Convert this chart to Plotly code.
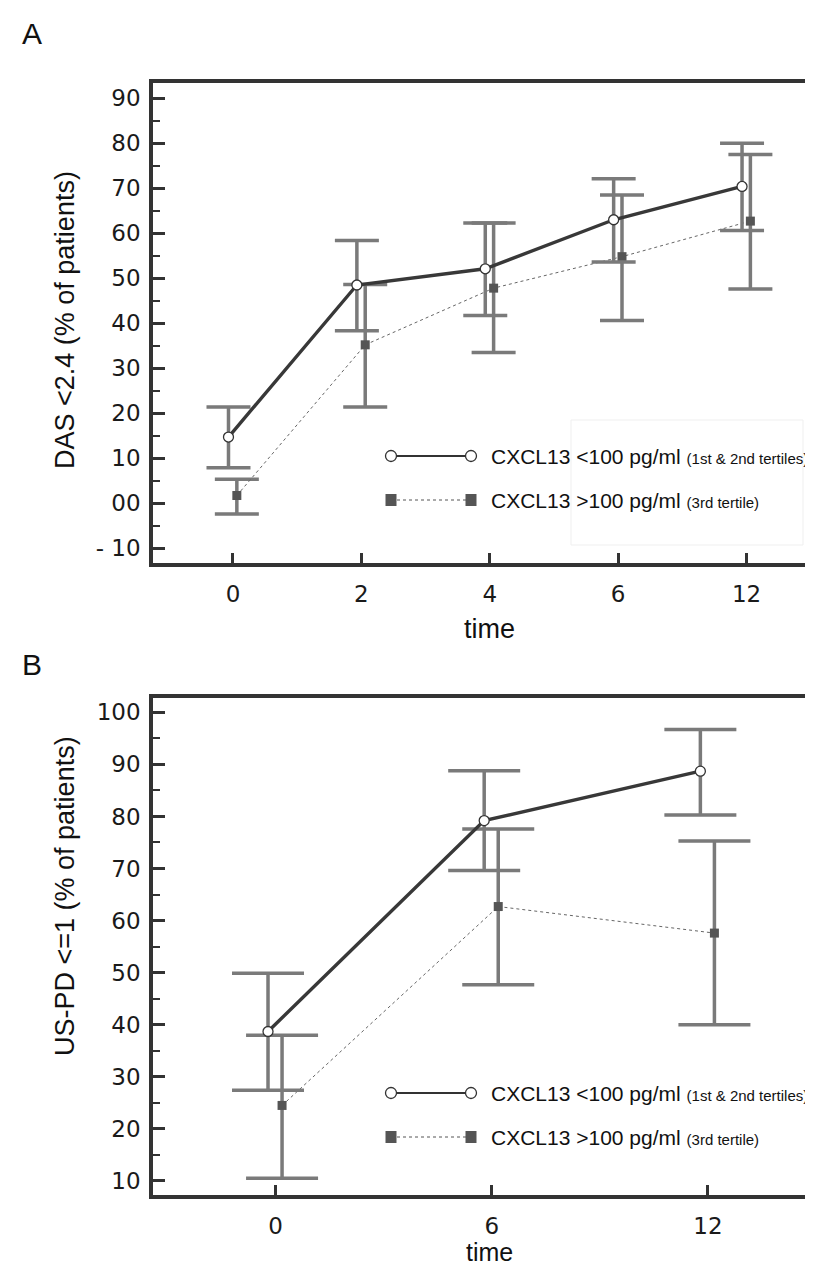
import plotly.graph_objects as go

W, H = 813, 1268
FONT = "Liberation Sans, Arial, Helvetica, sans-serif"
TICK_FONT = "DejaVu Sans, Liberation Sans, sans-serif"

# ---------------- Panel A data (DAS <2.4) ----------------
time_a = ["0", "2", "4", "6", "12"]
das_low = [14.7, 48.5, 52.1, 63.0, 70.4]
das_low_upper = [21.4, 58.4, 62.3, 72.1, 80.0]
das_low_lower = [7.9, 38.3, 41.7, 53.6, 60.6]
das_high = [1.7, 35.2, 47.8, 54.8, 62.7]
das_high_upper = [5.3, 48.6, 62.3, 68.5, 77.5]
das_high_lower = [-2.4, 21.4, 33.5, 40.6, 47.6]
y_ticks_a = [-10, 0, 10, 20, 30, 40, 50, 60, 70, 80, 90]
y_ticktext_a = ["- 10", "00", "10", "20", "30", "40", "50", "60", "70", "80", "90"]
y_minor_a = [-5, 5, 15, 25, 35, 45, 55, 65, 75, 85]

# ---------------- Panel B data (US-PD <=1) ----------------
time_b = ["0", "6", "12"]
us_low = [38.7, 79.2, 88.7]
us_low_upper = [49.9, 88.8, 96.7]
us_low_lower = [27.4, 69.6, 80.3]
us_high = [24.5, 62.7, 57.6]
us_high_upper = [38.0, 77.6, 75.3]
us_high_lower = [10.5, 47.7, 40.0]
y_ticks_b = [10, 20, 30, 40, 50, 60, 70, 80, 90, 100]
y_ticktext_b = ["10", "20", "30", "40", "50", "60", "70", "80", "90", "100"]
y_minor_b = [15, 25, 35, 45, 55, 65, 75, 85, 95]

legend_low = "CXCL13 &lt;100 pg/ml <span style='font-size:15px'>(1st &amp; 2nd tertiles)</span>"
legend_high = "CXCL13 &gt;100 pg/ml <span style='font-size:15px'>(3rd tertile)</span>"


def px(x):
    return x / W


def py(y):
    return 1 - y / H


AXIS_C = "#333333"
ERR_C = "#7a7a7a"

fig = go.Figure()


def add_panel(labels, low, low_up, low_lo, high, high_up, high_lo, xa, ya, cap):
    idx = list(range(len(labels)))
    fig.add_trace(go.Scatter(
        x=[i + 0.03 for i in idx], y=high, mode="lines+markers",
        line=dict(color="#666666", width=1, dash="dot"),
        marker=dict(symbol="square", size=9, color="#555555"),
        error_y=dict(type="data", symmetric=False,
                     array=[u - v for u, v in zip(high_up, high)],
                     arrayminus=[v - l for v, l in zip(high, high_lo)],
                     color=ERR_C, thickness=3.5, width=cap),
        xaxis=xa, yaxis=ya, showlegend=False, hoverinfo="skip"))
    fig.add_trace(go.Scatter(
        x=[i - 0.035 for i in idx], y=low, mode="lines+markers",
        line=dict(color="#383838", width=3.4),
        marker=dict(symbol="circle", size=10, color="white",
                    line=dict(color="#333333", width=1.3)),
        error_y=dict(type="data", symmetric=False,
                     array=[u - v for u, v in zip(low_up, low)],
                     arrayminus=[v - l for v, l in zip(low, low_lo)],
                     color=ERR_C, thickness=3.5, width=cap),
        xaxis=xa, yaxis=ya, showlegend=False, hoverinfo="skip"))


add_panel(time_a, das_low, das_low_upper, das_low_lower,
          das_high, das_high_upper, das_high_lower, "x", "y", 22)
add_panel(time_b, us_low, us_low_upper, us_low_lower,
          us_high, us_high_upper, us_high_lower, "x2", "y2", 36)

tickfont = dict(family=TICK_FONT, size=23, color="#1a1a1a")


def xaxis_cfg(labels, rng, anchor):
    return dict(domain=[px(145), 1], range=rng, anchor=anchor,
                tickmode="array", tickvals=list(range(len(labels))), ticktext=labels,
                ticks="inside", ticklen=10, tickwidth=3, tickcolor=AXIS_C,
                showline=True, linewidth=3.5, linecolor=AXIS_C, mirror=True,
                showgrid=False, zeroline=False, tickfont=tickfont,
                ticklabelstandoff=8)


def yaxis_cfg(domain, rng, tv, tt, minor, anchor):
    return dict(domain=domain, range=rng, anchor=anchor,
                tickmode="array", tickvals=tv, ticktext=tt,
                ticks="inside", ticklen=12, tickwidth=3, tickcolor=AXIS_C,
                minor=dict(tickmode="array", tickvals=minor, ticks="inside",
                           ticklen=7, tickwidth=2, tickcolor=AXIS_C),
                showline=True, linewidth=3.5, linecolor=AXIS_C, mirror=False,
                showgrid=False, zeroline=False, tickfont=tickfont,
                ticklabelstandoff=4)


fig.update_layout(
    width=W, height=H, margin=dict(l=0, r=0, t=0, b=0),
    paper_bgcolor="white", plot_bgcolor="white",
    font=dict(family=FONT, color="#1a1a1a"),
    xaxis=xaxis_cfg(time_a, [-0.623, 4.58], "y"),
    yaxis=yaxis_cfg([py(555), py(75)], [-13.3, 93.4], y_ticks_a, y_ticktext_a, y_minor_a, "x"),
    xaxis2=xaxis_cfg(time_b, [-0.567, 2.523], "y2"),
    yaxis2=yaxis_cfg([py(1187), py(690)], [7.3, 102.75], y_ticks_b, y_ticktext_b, y_minor_b, "x2"),
)

ann = []
shapes = []


def text(x, y, s, size, xanchor="center", angle=0):
    ann.append(dict(x=px(x), y=py(y), xref="paper", yref="paper", text=s,
                    showarrow=False, xanchor=xanchor, yanchor="middle",
                    textangle=angle, font=dict(family=FONT, size=size, color="#111111")))


text(12, 26, "A", 30, "left")
text(12, 656, "B", 30, "left")
text(482, 621, "time", 27)
text(482, 1244, "time", 25)
text(57, 312, "DAS &lt;2.4 (% of patients)", 27, angle=-90)
text(57, 888, "US-PD &lt;=1 (% of patients)", 27, angle=-90)

# faint legend frame (panel A)
shapes.append(dict(type="rect", xref="paper", yref="paper",
                   x0=px(563), x1=px(795), y0=py(537), y1=py(412),
                   line=dict(color="#efefef", width=1)))


def legend(row1, row2):
    xl, xr = 383, 463
    shapes.append(dict(type="line", xref="paper", yref="paper", x0=px(xl), x1=px(xr),
                       y0=py(row1), y1=py(row1), line=dict(color="#333333", width=2)))
    shapes.append(dict(type="line", xref="paper", yref="paper", x0=px(xl), x1=px(xr),
                       y0=py(row2), y1=py(row2), line=dict(color="#555555", width=1, dash="dot")))
    for xc in (xl, xr):
        shapes.append(dict(type="circle", xref="paper", yref="paper",
                           x0=px(xc - 5.5), x1=px(xc + 5.5), y0=py(row1 + 5.5), y1=py(row1 - 5.5),
                           fillcolor="white", line=dict(color="#333333", width=1.3)))
        shapes.append(dict(type="rect", xref="paper", yref="paper",
                           x0=px(xc - 5.5), x1=px(xc + 5.5), y0=py(row2 + 6), y1=py(row2 - 6),
                           fillcolor="#555555", line=dict(color="#555555", width=0)))
    text(481, row1, legend_low, 21, "left")
    text(481, row2, legend_high, 21, "left")


legend(448, 492)
legend(1085, 1129)

fig.update_layout(annotations=ann, shapes=shapes)
fig.write_html("out.html")
